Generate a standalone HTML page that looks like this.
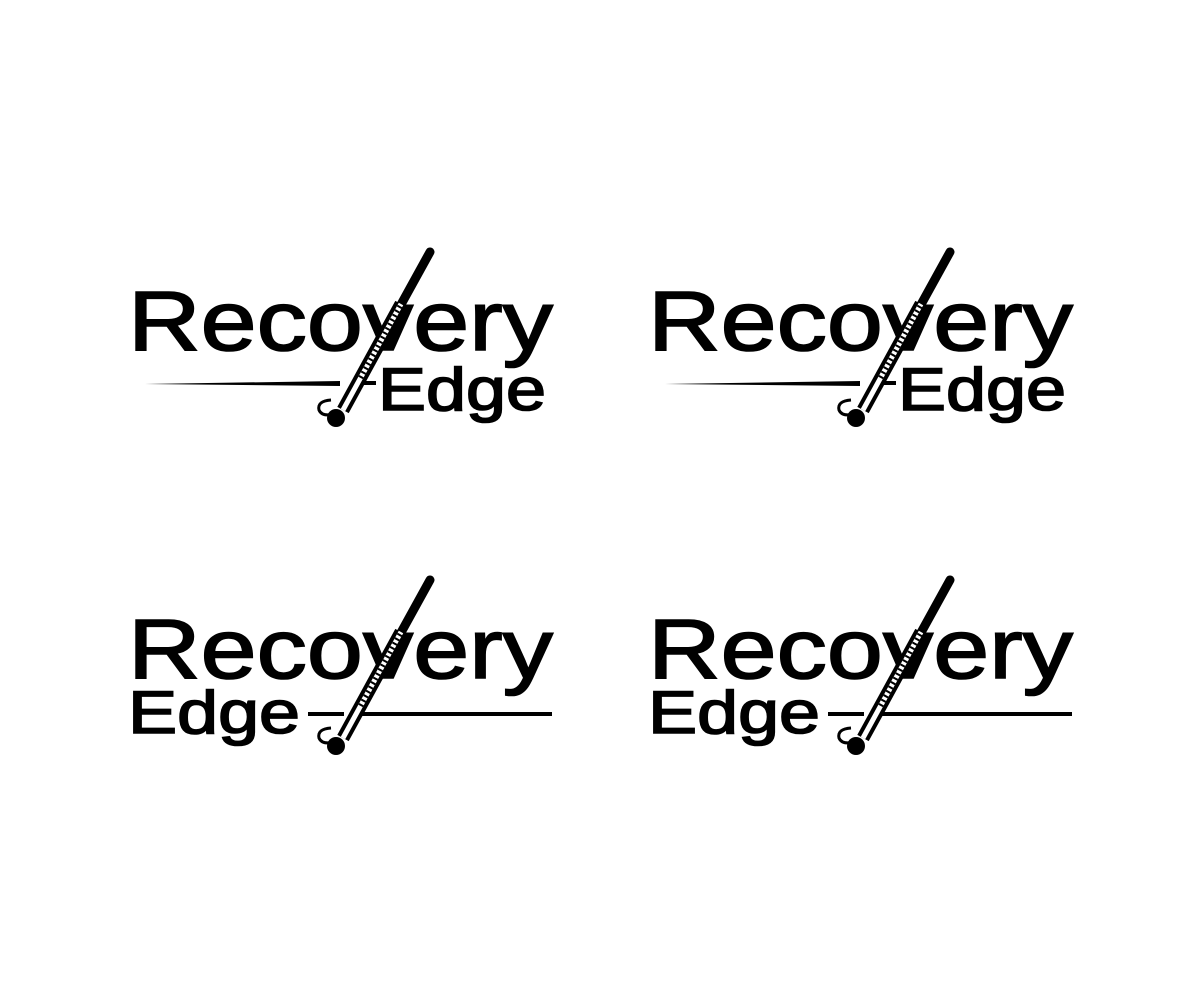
<!DOCTYPE html>
<html><head><meta charset="utf-8"><style>
html,body{margin:0;padding:0;background:#fff;}
svg{display:block}
text{font-family:"Liberation Sans",sans-serif;fill:#000;stroke:#000;stroke-width:1.6;}
</style></head><body>
<svg width="1200" height="1000" viewBox="0 0 1200 1000" xmlns="http://www.w3.org/2000/svg">
<defs>
<g id="stick">
  <line x1="430" y1="252" x2="398" y2="310" stroke="#000" stroke-width="9" stroke-linecap="round"/>
  <line x1="401" y1="304" x2="343" y2="410" stroke="#000" stroke-width="13"/>
  <line x1="401" y1="304" x2="343" y2="410" stroke="#fff" stroke-width="5"/>
  <line x1="400" y1="306" x2="360" y2="379" stroke="#000" stroke-width="5" stroke-dasharray="2 3"/>
  <path d="M331 400 Q317 401 319 410 Q322 417 334 414" fill="none" stroke="#000" stroke-width="3"/>
  <circle cx="336" cy="418" r="9" fill="#000"/>
</g>
</defs>
<g>
  <text x="128" y="350" font-size="84" textLength="425" lengthAdjust="spacingAndGlyphs">Recovery</text>
  <path d="M145 384 L340 381 L340 386 Z" fill="#000"/>
  <rect x="362" y="381" width="14" height="4" fill="#000"/>
  <text x="378" y="410" font-size="60" textLength="168" lengthAdjust="spacingAndGlyphs">Edge</text>
  <use href="#stick"/>
</g>
<g transform="translate(520,0)">
  <text x="128" y="350" font-size="84" textLength="425" lengthAdjust="spacingAndGlyphs">Recovery</text>
  <path d="M145 384 L340 381 L340 386 Z" fill="#000"/>
  <rect x="362" y="381" width="14" height="4" fill="#000"/>
  <text x="378" y="410" font-size="60" textLength="168" lengthAdjust="spacingAndGlyphs">Edge</text>
  <use href="#stick"/>
</g>
<g transform="translate(0,328)">
  <text x="128" y="350" font-size="84" textLength="425" lengthAdjust="spacingAndGlyphs">Recovery</text>
  <text x="128" y="405" font-size="60" textLength="172" lengthAdjust="spacingAndGlyphs">Edge</text>
  <rect x="308" y="384" width="36" height="4" fill="#000"/>
  <rect x="360" y="384" width="192" height="4" fill="#000"/>
  <use href="#stick"/>
</g>
<g transform="translate(520,328)">
  <text x="128" y="350" font-size="84" textLength="425" lengthAdjust="spacingAndGlyphs">Recovery</text>
  <text x="128" y="405" font-size="60" textLength="172" lengthAdjust="spacingAndGlyphs">Edge</text>
  <rect x="308" y="384" width="36" height="4" fill="#000"/>
  <rect x="360" y="384" width="192" height="4" fill="#000"/>
  <use href="#stick"/>
</g>
</svg>
</body></html>
